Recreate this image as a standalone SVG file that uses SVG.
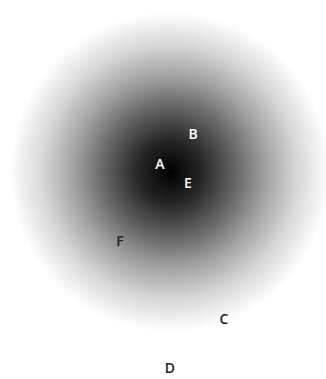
<svg xmlns="http://www.w3.org/2000/svg" width="326" height="379" viewBox="0 0 326 379">
<defs>
<radialGradient id="g" cx="170" cy="172" r="160" gradientUnits="userSpaceOnUse">
<stop offset="0" stop-color="#000"/>
<stop offset="0.2" stop-color="#262626"/>
<stop offset="0.4" stop-color="#626262"/>
<stop offset="0.6" stop-color="#a2a2a2"/>
<stop offset="0.8" stop-color="#d8d8d8"/>
<stop offset="1" stop-color="#fff"/>
</radialGradient>
<style>
text{font-family:"Open Sans","Liberation Sans",sans-serif;font-size:14px;font-weight:600;text-anchor:middle}
.w{fill:#fff}
.d{fill:#222}
</style>
</defs>
<rect width="326" height="379" fill="#fff"/>
<ellipse cx="170" cy="172" rx="158" ry="162" fill="url(#g)"/>
<g id="connectors"/>
<g id="A"><text class="w" x="160" y="169">A</text></g>
<g id="B"><text class="w" x="193" y="139">B</text></g>
<g id="E"><text class="w" x="188" y="188">E</text></g>
<g id="F"><text class="d" x="120" y="246">F</text></g>
<g id="C"><text class="d" x="224" y="324">C</text></g>
<g id="D"><text class="d" x="170" y="373">D</text></g>
</svg>
